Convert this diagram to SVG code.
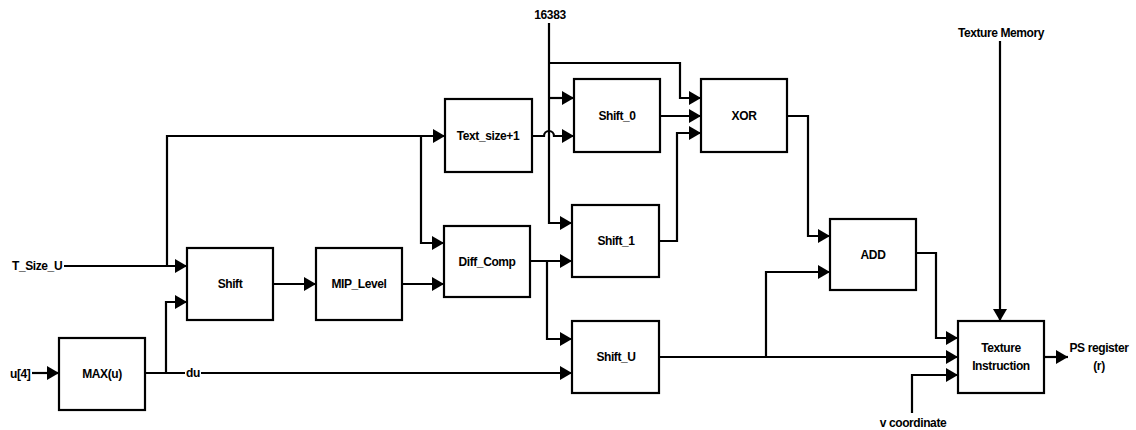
<svg xmlns="http://www.w3.org/2000/svg" width="1136" height="430" viewBox="0 0 1136 430">
<style>
.box{fill:#fff;stroke:#000;stroke-width:2.2}
.ln{fill:none;stroke:#000;stroke-width:2.2}
.t{font-family:"Liberation Sans",Arial,sans-serif;font-size:12px;font-weight:bold;letter-spacing:-0.4px;fill:#000;dominant-baseline:central}
.c{text-anchor:middle}
</style>
<defs>
<marker id="ah" markerUnits="userSpaceOnUse" markerWidth="13" markerHeight="14" refX="12" refY="7" orient="auto">
<path d="M0,0 L12,7 L0,14 z" fill="#000"/>
</marker>
</defs>
<g id="connectors">
<path class="ln" d="M64,266 H187" marker-end="url(#ah)"/>
<path class="ln" d="M167,266 V136 H445" marker-end="url(#ah)"/>
<path class="ln" d="M421,136 V243 H444" marker-end="url(#ah)"/>
<path class="ln" d="M145,373 H572" marker-end="url(#ah)"/>
<path class="ln" d="M166,373 V302 H187" marker-end="url(#ah)"/>
<path class="ln" d="M32,373 H59" marker-end="url(#ah)"/>
<path class="ln" d="M273,284 H316" marker-end="url(#ah)"/>
<path class="ln" d="M402,284 H444" marker-end="url(#ah)"/>
<path class="ln" d="M549,23 V223 H572" marker-end="url(#ah)"/>
<path class="ln" d="M549,98 H574" marker-end="url(#ah)"/>
<path class="ln" d="M549,63 H680 V98 H701" marker-end="url(#ah)"/>
<path class="ln" d="M532,136 H544 A5,5 0 0 1 554,136 H574" marker-end="url(#ah)"/>
<path class="ln" d="M660,116 H701" marker-end="url(#ah)"/>
<path class="ln" d="M659,241 H677 V133 H701" marker-end="url(#ah)"/>
<path class="ln" d="M787,116 H808 V236 H830" marker-end="url(#ah)"/>
<path class="ln" d="M530,261 H572" marker-end="url(#ah)"/>
<path class="ln" d="M547,261 V339 H572" marker-end="url(#ah)"/>
<path class="ln" d="M659,357 H958" marker-end="url(#ah)"/>
<path class="ln" d="M766,357 V272 H830" marker-end="url(#ah)"/>
<path class="ln" d="M916,253 H936 V338 H958" marker-end="url(#ah)"/>
<path class="ln" d="M912,413 V375 H958" marker-end="url(#ah)"/>
<path class="ln" d="M1000,41 V321" marker-end="url(#ah)"/>
<path class="ln" d="M1044,357 H1068" marker-end="url(#ah)"/>
<rect x="185" y="366" width="16" height="14" fill="#fff"/>
<text class="t c" x="193" y="373">du</text>
</g>
<g id="labels">
<text class="t" x="12" y="266">T_Size_U</text>
<text class="t" x="10" y="374">u[4]</text>
<text class="t c" x="550" y="15">16383</text>
<text class="t c" x="1001" y="33">Texture Memory</text>
<text class="t c" x="913" y="423">v coordinate</text>
<text class="t c" x="1099" y="348">PS register</text>
<text class="t c" x="1099" y="366">(r)</text>
</g>
<g id="max"><rect class="box" x="59" y="338" width="86" height="72"/><text class="t c" x="102" y="374">MAX(u)</text></g>
<g id="shift"><rect class="box" x="187" y="248" width="86" height="72"/><text class="t c" x="230" y="284">Shift</text></g>
<g id="mip"><rect class="box" x="316" y="248" width="86" height="72"/><text class="t c" x="359" y="284">MIP_Level</text></g>
<g id="textsize"><rect class="box" x="445" y="99" width="87" height="73"/><text class="t c" x="488" y="136">Text_size+1</text></g>
<g id="diffcomp"><rect class="box" x="444" y="226" width="86" height="71"/><text class="t c" x="487" y="262">Diff_Comp</text></g>
<g id="shift0"><rect class="box" x="574" y="79" width="86" height="73"/><text class="t c" x="617" y="116">Shift_0</text></g>
<g id="shift1"><rect class="box" x="572" y="205" width="87" height="72"/><text class="t c" x="616" y="241">Shift_1</text></g>
<g id="shiftu"><rect class="box" x="572" y="321" width="87" height="72"/><text class="t c" x="616" y="357">Shift_U</text></g>
<g id="xor"><rect class="box" x="701" y="79" width="86" height="73"/><text class="t c" x="744" y="116">XOR</text></g>
<g id="add"><rect class="box" x="830" y="219" width="86" height="71"/><text class="t c" x="873" y="255">ADD</text></g>
<g id="texinst"><rect class="box" x="958" y="321" width="86" height="72"/><text class="t c" x="1001" y="348">Texture</text><text class="t c" x="1001" y="366">Instruction</text></g>
</svg>
